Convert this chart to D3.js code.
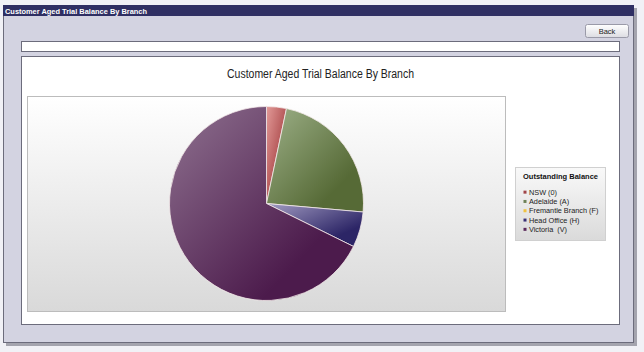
<!DOCTYPE html>
<html>
<head>
<meta charset="utf-8">
<script src="https://cdn.jsdelivr.net/npm/d3@7"></script>
<style>
  body { margin: 0; background: #f1f1f6; }
  svg { display: block; }
  text { font-family: "Liberation Sans", Arial, sans-serif; white-space: pre; }
</style>
</head>
<body>
<div id="chart"></div>
<script>
// podaci
const branches = ["NSW (0)", "Adelaide (A)", "Fremantle Branch (F)", "Head Office (H)", "Victoria  (V)"];
const balances = [3.3, 23.1, 0, 5.9, 67.7];
const sliceLight = ["#e29a98", "#9db088", "#f6d35a", "#a29cc2", "#8f7290"];
const sliceDark = ["#a23c3e", "#566a36", "#e8b828", "#2c2566", "#4c1b4c"];
const legendColors = ["#a04448", "#6e8258", "#f0c240", "#3a3276", "#5c2a5c"];
const chartTitle = "Customer Aged Trial Balance By Branch";
const legendTitle = "Outstanding Balance";

const sirina = 644, visina = 352;

const svg = d3.select("#chart").append("svg")
    .attr("width", sirina)
    .attr("height", visina);

const defs = svg.append("defs");

const plotGrad = defs.append("linearGradient")
    .attr("id", "plotGrad").attr("x1", 0).attr("y1", 0).attr("x2", 0).attr("y2", 1);
plotGrad.append("stop").attr("offset", 0).attr("stop-color", "#ffffff");
plotGrad.append("stop").attr("offset", 1).attr("stop-color", "#d9d9d9");

const legGrad = defs.append("linearGradient")
    .attr("id", "legGrad").attr("x1", 0).attr("y1", 0).attr("x2", 0).attr("y2", 1);
legGrad.append("stop").attr("offset", 0).attr("stop-color", "#f9f9f9");
legGrad.append("stop").attr("offset", 1).attr("stop-color", "#dadada");

const btnGrad = defs.append("linearGradient")
    .attr("id", "btnGrad").attr("x1", 0).attr("y1", 0).attr("x2", 0).attr("y2", 1);
btnGrad.append("stop").attr("offset", 0).attr("stop-color", "#ffffff");
btnGrad.append("stop").attr("offset", 1).attr("stop-color", "#dcdce2");

branches.forEach((b, i) => {
    const g = defs.append("linearGradient")
        .attr("id", "slice" + i)
        .attr("x1", 0).attr("y1", 0).attr("x2", 1).attr("y2", 1);
    g.append("stop").attr("offset", 0).attr("stop-color", sliceLight[i]);
    g.append("stop").attr("offset", 0.75).attr("stop-color", sliceDark[i]);
});

// okvir stranice
svg.append("rect")
    .attr("x", 6).attr("y", 8).attr("width", 631).attr("height", 338)
    .attr("fill", "#a4a4ae");
svg.append("rect")
    .attr("x", 3.5).attr("y", 5.5).attr("width", 630).attr("height", 337)
    .attr("fill", "#d3d3e1").attr("stroke", "#6c6c7c");
svg.append("rect")
    .attr("x", 3).attr("y", 5).attr("width", 631).attr("height", 11)
    .attr("fill", "#2f2f63");
svg.append("text")
    .attr("x", 5).attr("y", 13.5)
    .attr("fill", "#ffffff")
    .attr("font-size", 7.8)
    .attr("font-weight", "bold")
    .attr("textLength", 142)
    .attr("lengthAdjust", "spacingAndGlyphs")
    .text(chartTitle);

// gumb
svg.append("rect")
    .attr("x", 585.5).attr("y", 24.5).attr("width", 43).attr("height", 13).attr("rx", 2)
    .attr("fill", "url(#btnGrad)").attr("stroke", "#9a9aa8");
svg.append("text")
    .attr("x", 607).attr("y", 33.5)
    .attr("text-anchor", "middle")
    .attr("font-size", 7.5)
    .attr("fill", "#222")
    .text("Back");

// polje
svg.append("rect")
    .attr("x", 21.5).attr("y", 41.5).attr("width", 598).attr("height", 10)
    .attr("fill", "#ffffff").attr("stroke", "#6c6c7c");

// glavni panel
svg.append("rect")
    .attr("x", 21.5).attr("y", 56.5).attr("width", 598).attr("height", 268)
    .attr("fill", "#ffffff").attr("stroke", "#6c6c7c");

svg.append("text")
    .attr("x", 320.5).attr("y", 78)
    .attr("text-anchor", "middle")
    .attr("font-size", 12)
    .attr("fill", "#222")
    .attr("textLength", 187)
    .attr("lengthAdjust", "spacingAndGlyphs")
    .text(chartTitle);

// podrucje grafa
svg.append("rect")
    .attr("x", 27.5).attr("y", 96.5).attr("width", 478).attr("height", 215)
    .attr("fill", "url(#plotGrad)").attr("stroke", "#bcbcbc");

const pie = d3.pie().sort(null).value(d => d);
const arc = d3.arc().innerRadius(0).outerRadius(97);

const pita = svg.append("g")
    .attr("transform", "translate(266.5, 203.5)");

pita.selectAll("path")
    .data(pie(balances))
    .join("path")
    .attr("d", arc)
    .attr("fill", (d, i) => `url(#slice${i})`)
    .attr("stroke", "#f4eaea")
    .attr("stroke-width", 0.8)
    .attr("stroke-opacity", d => d.value > 0 ? 1 : 0);

// legenda
const leg = svg.append("g").attr("transform", "translate(515, 167)");
leg.append("rect")
    .attr("x", 0.5).attr("y", 0.5).attr("width", 90).attr("height", 73)
    .attr("fill", "url(#legGrad)").attr("stroke", "#d0d0d0");
leg.append("text")
    .attr("x", 8).attr("y", 12)
    .attr("font-size", 7.5)
    .attr("font-weight", "bold")
    .attr("fill", "#111")
    .attr("textLength", 75)
    .attr("lengthAdjust", "spacingAndGlyphs")
    .text(legendTitle);

const yLeg = d3.scaleBand()
    .domain(branches)
    .range([20.5, 67]);

const stavke = leg.selectAll(".stavka")
    .data(branches)
    .join("g")
    .attr("class", "stavka")
    .attr("transform", d => `translate(0, ${yLeg(d) + yLeg.bandwidth() / 2})`);

stavke.append("rect")
    .attr("x", 8.5).attr("y", -1.5).attr("width", 3).attr("height", 3)
    .attr("fill", (d, i) => legendColors[i]);

stavke.append("text")
    .attr("x", 14).attr("y", 2.6)
    .attr("font-size", 7.3)
    .attr("fill", "#222")
    .text(d => d);
</script>
</body>
</html>
